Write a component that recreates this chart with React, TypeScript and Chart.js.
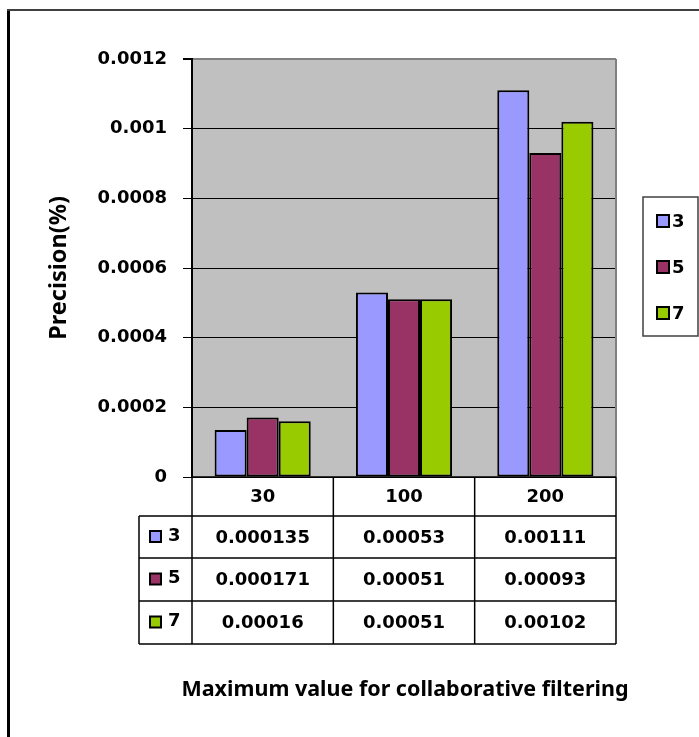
import React, { useEffect, useRef } from "react";
import { Chart, registerables } from "chart.js";

Chart.register(...registerables);

const categories = ["30", "100", "200"];
const seriesNames = ["3", "5", "7"];
const series3 = [0.000135, 0.00053, 0.00111];
const series5 = [0.000171, 0.00051, 0.00093];
const series7 = [0.00016, 0.00051, 0.00102];
const seriesColors = ["#9999ff", "#993366", "#99cc00"];
const yTickLabels = ["0", "0.0002", "0.0004", "0.0006", "0.0008", "0.001", "0.0012"];
const yTitle = "Precision(%)";
const xTitle = "Maximum value for collaborative filtering";

const W = 699;
const H = 737;
const NUM_FONT = "bold 18px 'DejaVu Sans', Verdana, sans-serif";
const X_TITLE_FONT = "bold 21.5px 'Liberation Sans Narrow', 'Noto Sans', sans-serif";
const Y_TITLE_FONT = "bold 23.5px 'Liberation Sans Narrow', 'Noto Sans', sans-serif";

const decorPlugin = {
  id: "decor",
  beforeDatasetsDraw(chart: any) {
    const { ctx, chartArea } = chart;
    ctx.save();
    ctx.strokeStyle = "#808080";
    ctx.lineWidth = 2;
    ctx.beginPath();
    ctx.moveTo(chartArea.right, chartArea.top);
    ctx.lineTo(chartArea.right, chartArea.bottom);
    ctx.stroke();
    ctx.restore();
  },
  beforeDraw(chart: any) {
    const { ctx, chartArea } = chart;
    ctx.save();
    ctx.fillStyle = "#ffffff";
    ctx.fillRect(0, 0, W, H);
    ctx.fillStyle = "#c0c0c0";
    ctx.fillRect(chartArea.left, chartArea.top, chartArea.right - chartArea.left, chartArea.bottom - chartArea.top);
    ctx.restore();
  },
  afterDraw(chart: any) {
    const { ctx, chartArea } = chart;
    const xs = chart.scales.x;
    const datasets = chart.data.datasets;
    ctx.save();

    // frame
    ctx.strokeStyle = "#000";
    ctx.lineWidth = 3;
    ctx.beginPath();
    ctx.moveTo(8.5, 10);
    ctx.lineTo(8.5, H);
    ctx.stroke();
    ctx.strokeStyle = "#404040";
    ctx.lineWidth = 2;
    ctx.beginPath();
    ctx.moveTo(7, 10);
    ctx.lineTo(W, 10);
    ctx.stroke();

    // data table
    const n = categories.length;
    const catW = (chartArea.right - chartArea.left) / n;
    const colEdges: number[] = [];
    for (let i = 0; i <= n; i++) colEdges.push(chartArea.left + i * catW);
    const tableLeft = 139;
    const rowTops = [chartArea.bottom, 516, 558, 601, 644];

    ctx.strokeStyle = "#000";
    ctx.lineWidth = 1.5;
    ctx.beginPath();
    ctx.moveTo(colEdges[0], rowTops[0]);
    ctx.lineTo(colEdges[n], rowTops[0]);
    for (let r = 1; r < rowTops.length; r++) {
      ctx.moveTo(tableLeft, rowTops[r]);
      ctx.lineTo(colEdges[n], rowTops[r]);
    }
    for (let i = 0; i <= n; i++) {
      ctx.moveTo(colEdges[i], rowTops[0]);
      ctx.lineTo(colEdges[i], rowTops[rowTops.length - 1]);
    }
    ctx.moveTo(tableLeft, rowTops[1]);
    ctx.lineTo(tableLeft, rowTops[rowTops.length - 1]);
    ctx.stroke();

    ctx.fillStyle = "#000";
    ctx.font = NUM_FONT;
    ctx.textAlign = "center";
    ctx.textBaseline = "middle";
    for (let i = 0; i < n; i++) {
      const cx = xs.getPixelForValue(i);
      ctx.fillText(categories[i], cx, (rowTops[0] + rowTops[1]) / 2 + 1);
    }
    datasets.forEach((ds: any, r: number) => {
      const cy = (rowTops[r + 1] + rowTops[r + 2]) / 2;
      for (let i = 0; i < n; i++) {
        const cx = xs.getPixelForValue(i);
        ctx.fillText(String(ds.data[i]), cx, cy + 1);
      }
      ctx.fillStyle = ds.backgroundColor;
      ctx.fillRect(150, cy - 6, 11, 11);
      ctx.strokeStyle = "#000";
      ctx.lineWidth = 2;
      ctx.strokeRect(150, cy - 6, 11, 11);
      ctx.fillStyle = "#000";
      ctx.textAlign = "left";
      ctx.fillText(ds.label, 168, cy - 1);
      ctx.textAlign = "center";
    });

    // right legend
    ctx.strokeStyle = "#404040";
    ctx.lineWidth = 1.5;
    ctx.strokeRect(643, 197, 55, 139);
    const legendYs = [221, 267, 313];
    datasets.forEach((ds: any, r: number) => {
      const cy = legendYs[r];
      ctx.fillStyle = ds.backgroundColor;
      ctx.fillRect(657, cy - 6, 12, 12);
      ctx.strokeStyle = "#000";
      ctx.lineWidth = 2;
      ctx.strokeRect(657, cy - 6, 12, 12);
      ctx.fillStyle = "#000";
      ctx.textAlign = "left";
      ctx.textBaseline = "middle";
      ctx.fillText(ds.label, 672, cy + 1);
    });

    // axis titles
    ctx.textAlign = "center";
    ctx.textBaseline = "middle";
    ctx.font = X_TITLE_FONT;
    ctx.fillText(xTitle, 405, 690);
    ctx.save();
    ctx.translate(59, 268);
    ctx.rotate(-Math.PI / 2);
    ctx.font = Y_TITLE_FONT;
    ctx.fillText(yTitle, 0, 0);
    ctx.restore();

    ctx.restore();
  },
};

export default function App() {
  const canvasRef = useRef<HTMLCanvasElement | null>(null);

  useEffect(() => {
    if (!canvasRef.current) return;
    const values = [series3, series5, series7];
    const chart = new Chart(canvasRef.current, {
      type: "bar",
      data: {
        labels: categories,
        datasets: seriesNames.map((name, i) => ({
          label: name,
          data: values[i],
          backgroundColor: seriesColors[i],
          borderColor: "#000",
          borderWidth: 2,
          borderSkipped: false,
          categoryPercentage: 0.68,
          barPercentage: 1,
        })),
      },
      options: {
        animation: false,
        responsive: false,
        devicePixelRatio: 1,
        layout: { padding: { top: 59, right: 83, left: 0, bottom: 0 } },
        plugins: {
          legend: { display: false },
          tooltip: { enabled: false },
          title: { display: false },
        },
        scales: {
          x: {
            type: "category",
            grid: { display: false },
            ticks: { display: false },
            border: { display: false },
            afterFit: (s: any) => {
              s.height = H - 477;
            },
          },
          y: {
            min: 0,
            max: 0.0012,
            ticks: {
              stepSize: 0.0002,
              padding: 16,
              color: "#000",
              font: { family: "'DejaVu Sans', Verdana, sans-serif", size: 18, weight: "bold" },
              callback: (_v: any, i: number) => yTickLabels[i],
            },
            grid: {
              color: (c: any) => (c.index === yTickLabels.length - 1 ? "#808080" : "#000"),
              lineWidth: (c: any) => (c.index === yTickLabels.length - 1 ? 2 : 1),
              tickColor: "#000",
              tickLength: 9,
              drawTicks: true,
            },
            border: { display: true, color: "#000", width: 2 },
            afterFit: (s: any) => {
              s.width = 192;
            },
          },
        },
      },
      plugins: [decorPlugin],
    } as any);
    return () => chart.destroy();
  }, []);

  return (
    <div style={{ position: "absolute", left: 0, top: 0, width: W, height: H }}>
      <canvas ref={canvasRef} width={W} height={H} style={{ display: "block", width: W, height: H }} />
    </div>
  );
}
